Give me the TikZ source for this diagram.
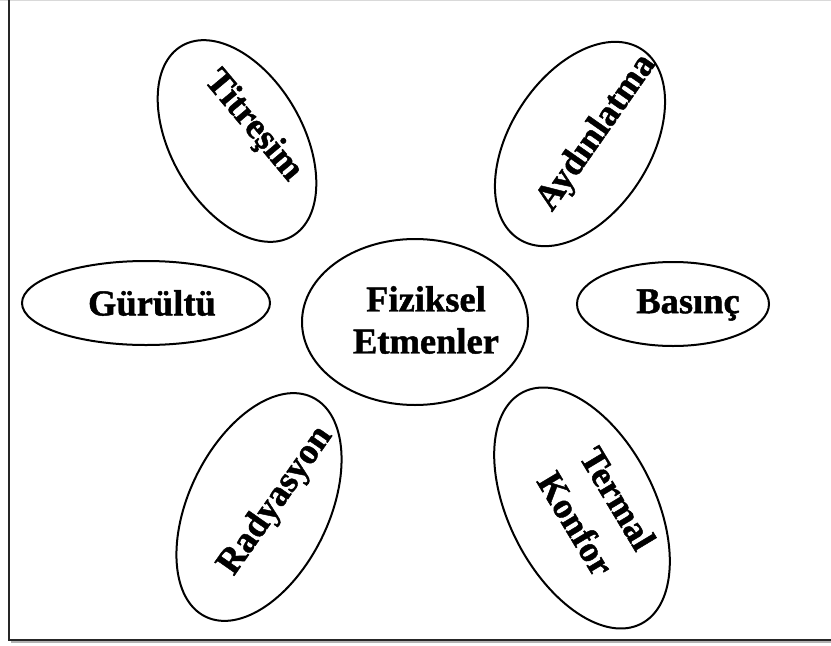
\documentclass[tikz,border=0pt]{standalone}
\usepackage{fontspec}
\setmainfont{Liberation Serif}
\newfontfamily\heavyfont{Liberation Serif Bold}[FakeBold=1.2]
\usetikzlibrary{shapes.geometric}
\tikzset{
  oval/.style={ellipse, draw=black, line width=2pt, inner sep=0pt, outer sep=0pt},
  lbl/.style={font=\heavyfont\fontsize{36.5}{42}\selectfont, align=center, inner sep=0pt, text=black},
  frameline/.style={line width=2pt, draw=black!85},
}
\begin{document}
\begin{tikzpicture}[x=1pt, y=-1pt]
\useasboundingbox (0,0) rectangle (831,646);
\fill[white] (0,0) rectangle (831,646);
% frame
\coordinate (ftl) at (9,0);
\coordinate (fbl) at (9,640);
\coordinate (fbr) at (831,640);
\coordinate (gtl) at (0,0.5);
\coordinate (gtr) at (831,0.5);
\coordinate (gbl) at (11,642);
\coordinate (gbr) at (831,642);
\draw[black!15, line width=1.5pt] (gtl) -- (gtr);
\draw[black!30, line width=1.5pt] (gbl) -- (gbr);
\draw[frameline] (ftl) -- (fbl) -- (fbr);
% ellipses
\node[oval, minimum width=220pt, minimum height=132pt, rotate=-60] (eTit) at (237,141) {};
\node[oval, minimum width=226pt, minimum height=140pt, rotate=57] (eAyd) at (580,144) {};
\node[oval, minimum width=248pt, minimum height=84pt] (eGur) at (146,303) {};
\node[oval, minimum width=192pt, minimum height=84pt] (eBas) at (673,304) {};
\node[oval, minimum width=226pt, minimum height=166pt] (eFiz) at (415,322) {};
\node[oval, minimum width=244pt, minimum height=140pt, rotate=64] (eRad) at (259,507) {};
\node[oval, minimum width=260pt, minimum height=146pt, rotate=-63] (eTer) at (582,508) {};
% labels
\node[lbl, rotate=-50] (tTit) at (253,126) {Titreşim};
\node[lbl, rotate=55] (tAyd) at (597,133) {Aydınlatma};
\node[lbl] (tGur) at (152,303) {Gürültü};
\node[lbl] (tBas) at (688,305) {Basınç};
\node[lbl] (tFiz) at (426,320) {Fiziksel\\Etmenler};
\node[lbl, rotate=55] (tRad) at (276,501) {Radyasyon};
\node[lbl, rotate=-59, font=\heavyfont\fontsize{36.5}{49}\selectfont] (tTer) at (597,511) {Termal\\Konfor};
\end{tikzpicture}
\end{document}
